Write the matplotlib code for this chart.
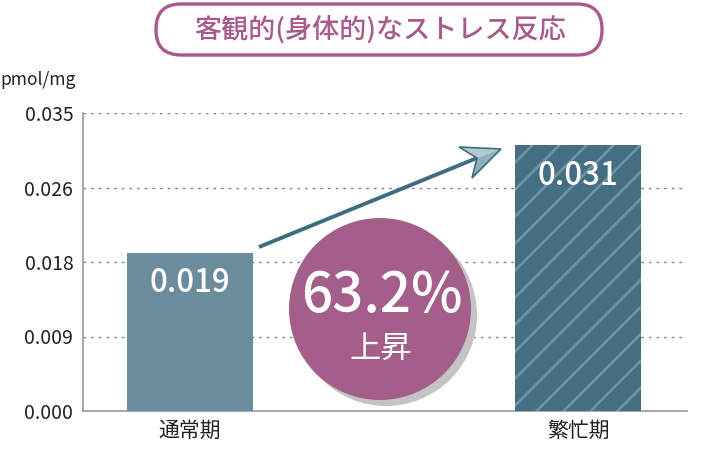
import matplotlib
matplotlib.use("Agg")
import matplotlib.pyplot as plt
import numpy as np
from matplotlib.patches import Circle, FancyBboxPatch, Polygon
from matplotlib.transforms import IdentityTransform

plt.rcParams['font.family'] = ['Noto Sans CJK JP', 'DejaVu Sans']

# data
categories = ["通常期", "繁忙期"]
values = [0.0186, 0.0312]
value_labels = ["0.019", "0.031"]
yticks = [0.0, 0.00875, 0.0175, 0.02625, 0.035]
title = "客観的(身体的)なストレス反応"
unit = "pmol/mg"
rise_pct = "63.2%"
rise_word = "上昇"

fig = plt.figure(figsize=(7.17, 4.68), dpi=100)
ax = fig.add_axes([83/717, 57/468, 604/717, 298/468])

x = np.arange(len(categories))
bars = ax.bar(x, values, width=0.325, color=["#6b8d9b", "#446f82"],
              linewidth=0, zorder=3)

for b, lab in zip(bars, value_labels):
    ax.annotate(lab, (b.get_x() + b.get_width()/2, b.get_height()),
                xytext=(0, -22), textcoords="offset points",
                ha="center", va="center", color="white", fontsize=22.5,
                weight="medium", zorder=5)

ax.set_xlim(-0.276, 1.28)
ax.set_ylim(0, 0.035)
ax.set_yticks(yticks)
ax.set_yticklabels([f"{v:.3f}" for v in yticks])
ax.set_xticks(x)
ax.set_xticklabels(categories)
ax.tick_params(axis="both", length=0, labelsize=14, colors="#222222")
ax.tick_params(axis="y", pad=7)
ax.tick_params(axis="x", pad=6, labelsize=15)
for s in ["top", "right"]:
    ax.spines[s].set_visible(False)
for s in ["left", "bottom"]:
    ax.spines[s].set_color("#999999")
    ax.spines[s].set_linewidth(1.2)
for t in yticks[1:]:
    ax.axhline(t, color="#888888", lw=1, ls=(0, (2, 3.5)), zorder=1)

# diagonal stripes on the busy-period bar (pixel space)
fig.canvas.draw()
bb = bars[1].get_window_extent()
for c in np.arange(bb.x0 - bb.height - 10, bb.x1 + 27, 27):
    ln, = ax.plot([c, c + bb.height], [bb.y0, bb.y1], color="#7094a4", lw=1.9,
                  transform=IdentityTransform(), zorder=4)
    ln.set_clip_path(bars[1])

# overlay in pixel coordinates
ov = fig.add_axes([0, 0, 1, 1])
ov.set_xlim(0, 717)
ov.set_ylim(468, 0)
ov.axis("off")
ov.patch.set_alpha(0)

ov.text(0, 80, unit, ha="left", va="center", fontsize=12.5, color="#222222")

# title pill
ov.add_patch(FancyBboxPatch((156, 4), 446, 51, boxstyle="round,pad=0,rounding_size=25",
                            fc="white", ec="#a85a8d", lw=2.4))
ov.text(380, 30, title, ha="center", va="center", fontsize=19.5, color="#a85a8d",
        weight="medium")

# arrow
ov.plot([259, 477], [247, 158], color="#3e6d80", lw=2.8, solid_capstyle="butt", zorder=5)
ov.add_patch(Polygon([(501, 149), (459, 147), (477, 158)], closed=True,
                     fc="#b5c9d2", ec="none", zorder=6))
ov.add_patch(Polygon([(501, 149), (477, 158), (472, 178)], closed=True,
                     fc="#8eafbd", ec="none", zorder=6))
ov.add_patch(Polygon([(501, 149), (459, 147), (477, 158), (472, 178)], closed=True,
                     fc="none", ec="#3e6d80", lw=1.2, zorder=6))

# circle badge
ov.add_patch(Circle((386, 315), 91, fc="#c4c4c4", ec="none", zorder=6))
ov.add_patch(Circle((380, 309), 91, fc="#a35e8a", ec="none", zorder=7))
ov.text(382, 296, rise_pct, ha="center", va="center", fontsize=39.5, color="white",
        weight="medium", zorder=8)
ov.text(381, 349, rise_word, ha="center", va="center", fontsize=22.5, color="white", zorder=8)

fig.savefig("out.png", dpi=100)
